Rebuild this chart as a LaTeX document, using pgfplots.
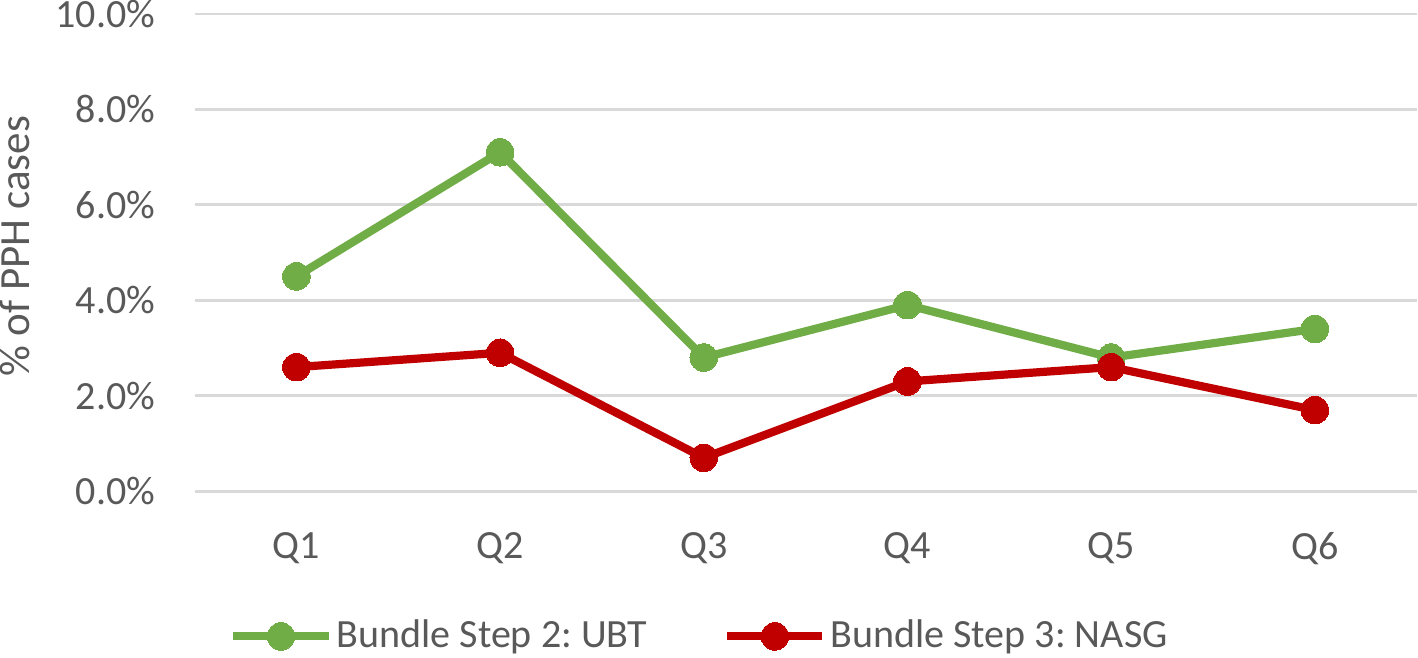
\documentclass[border=0pt]{standalone}
\usepackage{pgfplots}
\pgfplotsset{compat=1.18}
\usepackage{fontspec}
\setmainfont{Carlito}
\definecolor{cgreen}{HTML}{70AD47}
\definecolor{cred}{HTML}{C00000}
\definecolor{ctext}{HTML}{595959}
\definecolor{cgrid}{HTML}{D9D9D9}
\begin{document}
\frenchspacing
\fontsize{20}{24}\selectfont
\begin{tikzpicture}
\begin{axis}[
  scale only axis,
  width=610.5pt, height=238.5pt,
  xmin=0.5, xmax=6.5, ymin=0, ymax=10,
  axis line style={draw=none},
  major tick length=0pt,
  xtick={1,2,3,4,5,6},
  xticklabels={Q1,Q2,Q3,Q4,Q5,Q6},
  ytick={0,2,4,6,8,10},
  ymajorgrids,
  grid style={color=cgrid, line width=1.3pt},
  /pgf/number format/assume math mode=true,
  yticklabel={\pgfmathprintnumber[fixed,fixed zerofill,precision=1]{\tick}\%},
  yticklabel style={anchor=east, inner sep=0pt, xshift=-19.5pt, text=ctext, font=\fontsize{20}{24}\selectfont},
  xticklabel style={anchor=north, inner sep=0pt, yshift=-20.5pt, text=ctext, font=\fontsize{20}{24}\selectfont},
  ylabel={\% of PPH cases},
  ylabel style={at={(axis description cs:-0.147,0.513)}, anchor=center, rotate=0, inner sep=0pt, text=ctext, font=\fontsize{21.5}{25}\selectfont},
  legend columns=2,
  legend style={at={(axis description cs:0.414,-0.304)}, anchor=center, draw=none, fill=none,
    font=\fontsize{20}{24}\selectfont, text=ctext, inner sep=0pt,
    /tikz/every even column/.append style={column sep=36pt}},
  legend cell align=left,
  legend image code/.code={
    \draw[#1, mark=none] (0pt,0pt) -- (47.5pt,0pt);
    \draw[#1, only marks] plot coordinates {(23.75pt,0pt)};
  },
]
\addplot[color=cgreen, line width=4.1pt, mark=*, mark size=6.9pt, mark options={solid, fill=cgreen, draw=cgreen, line width=0pt}]
  coordinates {(1,4.5) (2,7.1) (3,2.8) (4,3.9) (5,2.8) (6,3.4)};
\addlegendentry{Bundle Step 2: UBT}
\addplot[color=cred, line width=4.1pt, mark=*, mark size=6.9pt, mark options={solid, fill=cred, draw=cred, line width=0pt}]
  coordinates {(1,2.6) (2,2.9) (3,0.7) (4,2.3) (5,2.6) (6,1.7)};
\addlegendentry{Bundle Step 3: NASG}
\end{axis}
\end{tikzpicture}
\end{document}
